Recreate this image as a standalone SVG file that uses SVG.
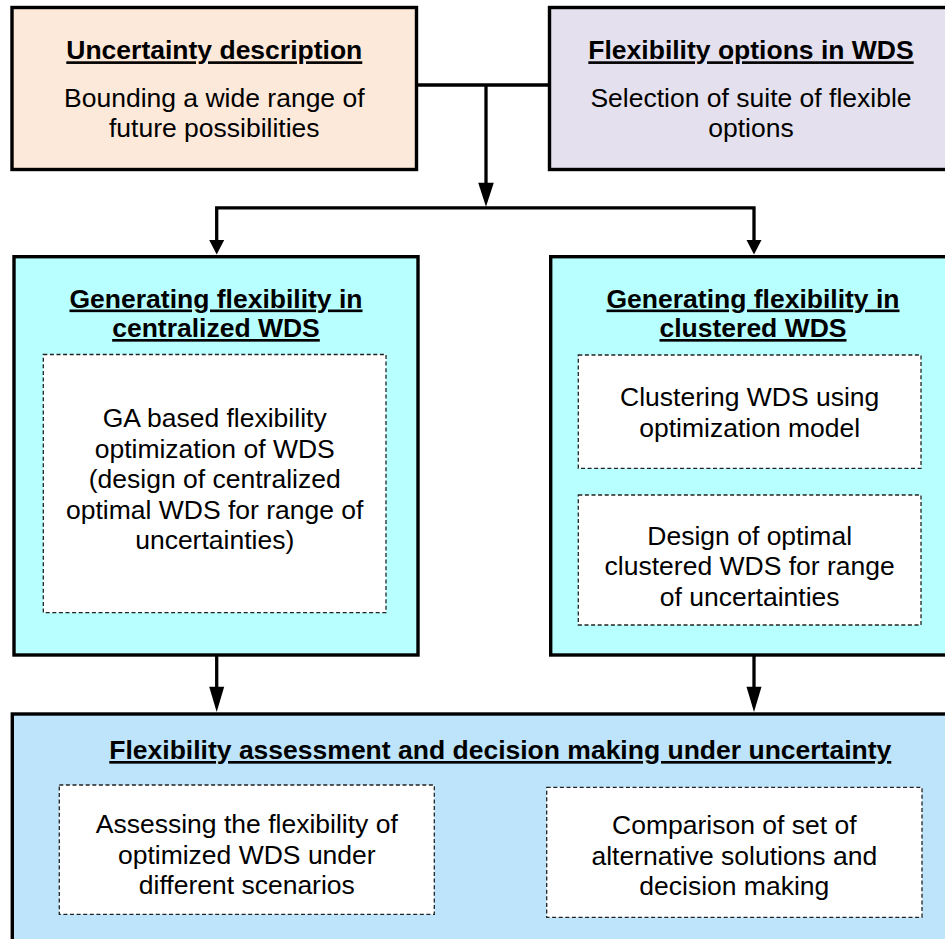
<svg xmlns="http://www.w3.org/2000/svg" width="945" height="939" viewBox="0 0 945 939">
<style>
  .box { stroke: #000; stroke-width: 3.4; }
  .dash { fill: #fff; stroke: #222; stroke-width: 1.3; stroke-dasharray: 4 2.6; }
  .t { font-family: "Liberation Sans", Arial, sans-serif; font-size: 26.5px; fill: #000; text-anchor: middle; }
  .h { font-weight: bold; text-decoration: underline; }
  .line { fill: none; stroke: #000; stroke-width: 3.3; stroke-linejoin: miter; }
  .head { fill: #000; stroke: none; }
</style>
<rect x="0" y="0" width="945" height="939" fill="#fff"/>

<g id="connectors">
  <path class="line" d="M416.5,85 H549.5"/>
  <path class="line" d="M486,85 V184"/>
  <polygon class="head" points="478.2,182.7 493.8,182.7 486,206.7"/>
  <path class="line" d="M216.7,241 V207.8 H754 V241"/>
  <polygon class="head" points="209.2,240 224.2,240 216.7,254.5"/>
  <polygon class="head" points="746.5,240 761.5,240 754,254.5"/>
  <path class="line" d="M216.7,655 V688"/>
  <polygon class="head" points="209.2,686.7 224.2,686.7 216.7,712"/>
  <path class="line" d="M754,655 V688"/>
  <polygon class="head" points="746.5,686.7 761.5,686.7 754,712"/>
</g>

<g id="uncertainty">
  <rect class="box" x="12" y="7.5" width="404.5" height="162" fill="#fde9d9"/>
  <text class="t h" x="214.3" y="59.3">Uncertainty description</text>
  <text class="t" x="214.3" y="107.3">Bounding a wide range of</text>
  <text class="t" x="214.3" y="137.3">future possibilities</text>
</g>

<g id="flex-options">
  <rect class="box" x="549.5" y="7.5" width="404" height="162" fill="#e4e0ed"/>
  <text class="t h" x="751" y="59.3">Flexibility options in WDS</text>
  <text class="t" x="751" y="107.3">Selection of suite of flexible</text>
  <text class="t" x="751" y="137.3">options</text>
</g>

<g id="centralized">
  <rect class="box" x="14" y="256.7" width="404" height="398.3" fill="#b8ffff"/>
  <text class="t h" x="216" y="307.5">Generating flexibility in</text>
  <text class="t h" x="216" y="337">centralized WDS</text>
  <g id="ga-optimization">
    <rect class="dash" x="43.3" y="354.5" width="342.7" height="258.2"/>
    <text class="t" x="214.7" y="427">GA based flexibility</text>
    <text class="t" x="214.7" y="457.5">optimization of WDS</text>
    <text class="t" x="214.7" y="488">(design of centralized</text>
    <text class="t" x="214.7" y="518.5">optimal WDS for range of</text>
    <text class="t" x="214.7" y="549">uncertainties)</text>
  </g>
</g>

<g id="clustered">
  <rect class="box" x="550.7" y="256.7" width="404" height="398.3" fill="#b8ffff"/>
  <text class="t h" x="753" y="307.5">Generating flexibility in</text>
  <text class="t h" x="753" y="337">clustered WDS</text>
  <g id="clustering">
    <rect class="dash" x="578.3" y="355" width="342.7" height="113.3"/>
    <text class="t" x="749.7" y="406">Clustering WDS using</text>
    <text class="t" x="749.7" y="436.5">optimization model</text>
  </g>
  <g id="clustered-design">
    <rect class="dash" x="578.3" y="495" width="342.7" height="130"/>
    <text class="t" x="749.7" y="545">Design of optimal</text>
    <text class="t" x="749.7" y="575">clustered WDS for range</text>
    <text class="t" x="749.7" y="605.5">of uncertainties</text>
  </g>
</g>

<g id="assessment">
  <rect class="box" x="12.3" y="714" width="945" height="240" fill="#bde4fa"/>
  <text class="t h" x="500.3" y="759">Flexibility assessment and decision making under uncertainty</text>
  <g id="assessing">
    <rect class="dash" x="59.3" y="785" width="375" height="129.3"/>
    <text class="t" x="246.8" y="833">Assessing the flexibility of</text>
    <text class="t" x="246.8" y="863.5">optimized WDS under</text>
    <text class="t" x="246.8" y="893.5">different scenarios</text>
  </g>
  <g id="comparison">
    <rect class="dash" x="546.7" y="787.3" width="375.3" height="130"/>
    <text class="t" x="734.3" y="834">Comparison of set of</text>
    <text class="t" x="734.3" y="864.5">alternative solutions and</text>
    <text class="t" x="734.3" y="895">decision making</text>
  </g>
</g>
</svg>
